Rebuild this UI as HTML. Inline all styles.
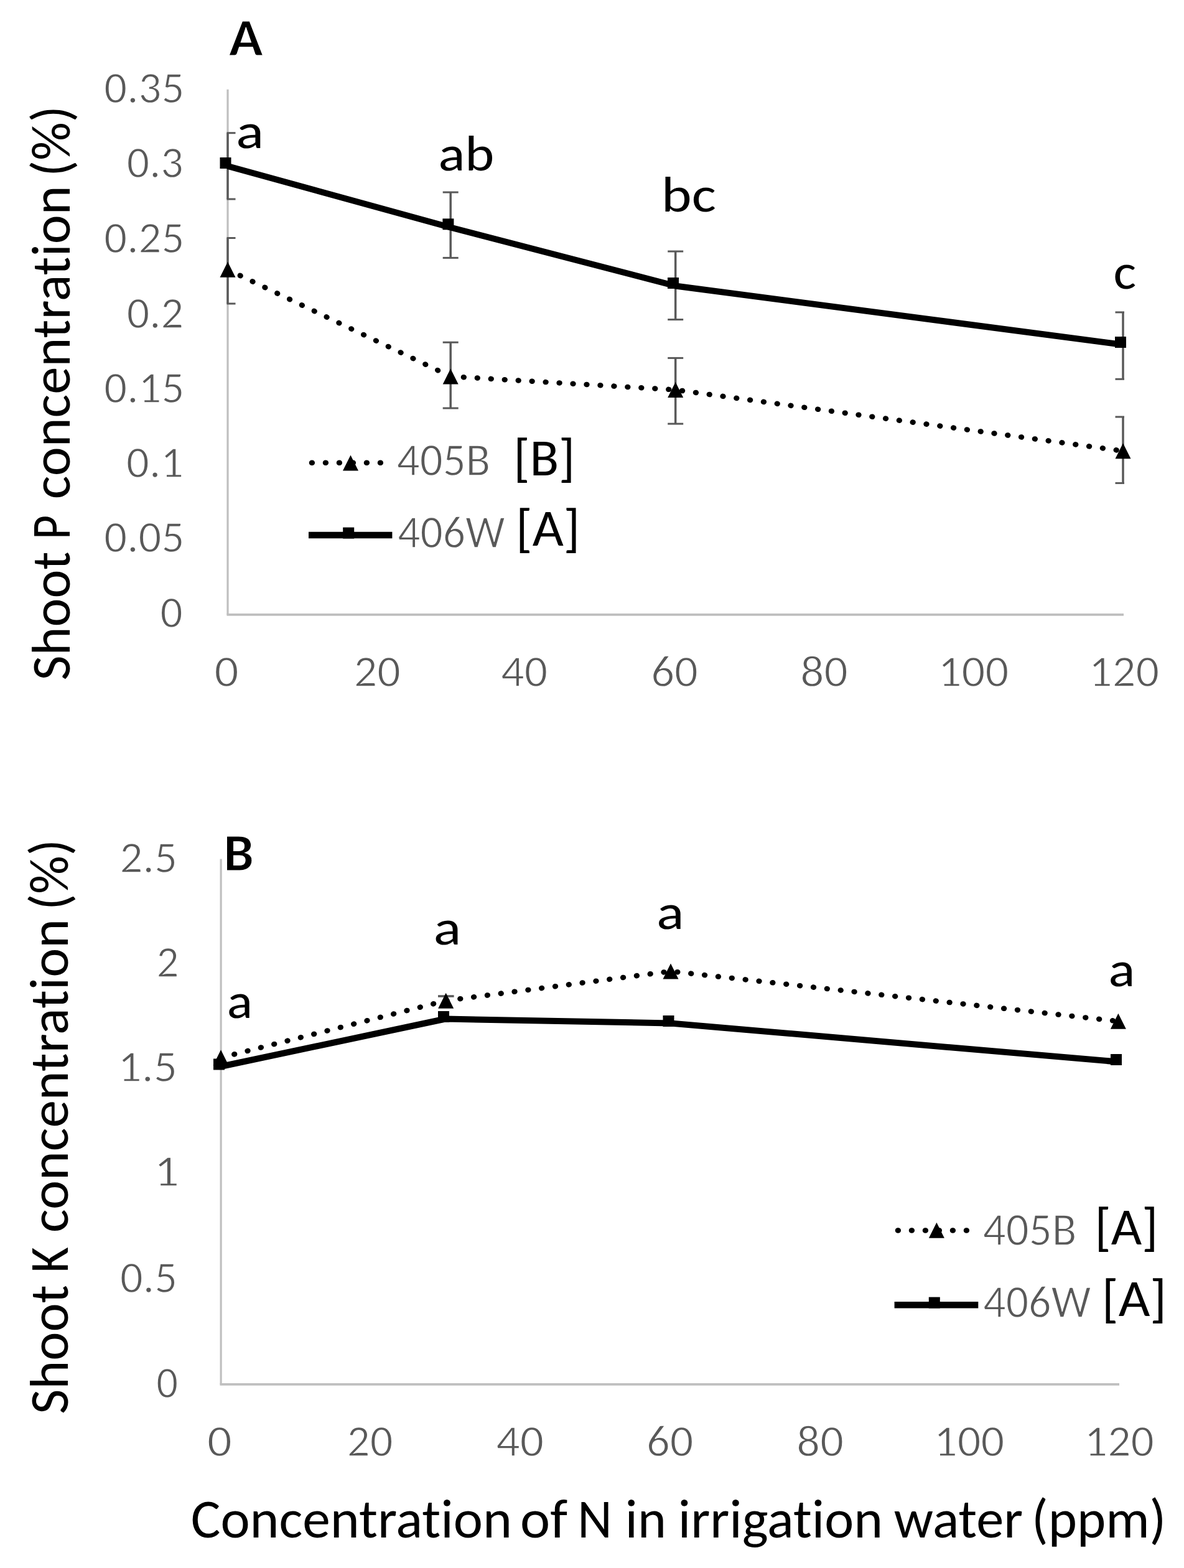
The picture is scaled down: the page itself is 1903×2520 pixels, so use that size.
<!DOCTYPE html>
<html><head><meta charset="utf-8"><title>Shoot P and K concentration</title>
<style>
html,body{margin:0;padding:0;background:#fff;}
body{width:1903px;height:2520px;overflow:hidden;}
svg{display:block;}
text{font-family:Carlito, 'Liberation Sans', sans-serif;font-size-adjust:cap-height 0.6416015625;font-variant-ligatures:none;font-feature-settings:"liga" 0,"clig" 0;}
</style></head>
<body>
<svg width="1903" height="2520" viewBox="0 0 1903 2520">
<rect width="1903" height="2520" fill="#fff"/>
<g id="plot">
<line x1="366" y1="143.7" x2="366" y2="987.9" stroke="#BFBFBF" stroke-width="3.2" />
<line x1="364.5" y1="987.9" x2="1806" y2="987.9" stroke="#BFBFBF" stroke-width="3.6" />
<line x1="366" y1="213.7" x2="366" y2="320.0" stroke="#595959" stroke-width="3.5" />
<line x1="364.5" y1="213.7" x2="378.5" y2="213.7" stroke="#595959" stroke-width="3" />
<line x1="364.5" y1="320.0" x2="378.5" y2="320.0" stroke="#595959" stroke-width="3" />
<line x1="724.2" y1="309.0" x2="724.2" y2="414.4" stroke="#595959" stroke-width="3.5" />
<line x1="711.7" y1="309.0" x2="736.7" y2="309.0" stroke="#595959" stroke-width="3" />
<line x1="711.7" y1="414.4" x2="736.7" y2="414.4" stroke="#595959" stroke-width="3" />
<line x1="1085.7" y1="404.0" x2="1085.7" y2="513.6" stroke="#595959" stroke-width="3.5" />
<line x1="1073.2" y1="404.0" x2="1098.2" y2="404.0" stroke="#595959" stroke-width="3" />
<line x1="1073.2" y1="513.6" x2="1098.2" y2="513.6" stroke="#595959" stroke-width="3" />
<line x1="1805" y1="501.9" x2="1805" y2="609.3" stroke="#595959" stroke-width="3.5" />
<line x1="1792.5" y1="501.9" x2="1807.0" y2="501.9" stroke="#595959" stroke-width="3" />
<line x1="1792.5" y1="609.3" x2="1807.0" y2="609.3" stroke="#595959" stroke-width="3" />
<line x1="366" y1="382.5" x2="366" y2="488.0" stroke="#595959" stroke-width="3.5" />
<line x1="364.5" y1="382.5" x2="378.5" y2="382.5" stroke="#595959" stroke-width="3" />
<line x1="364.5" y1="488.0" x2="378.5" y2="488.0" stroke="#595959" stroke-width="3" />
<line x1="724.2" y1="550.2" x2="724.2" y2="656.0" stroke="#595959" stroke-width="3.5" />
<line x1="711.7" y1="550.2" x2="736.7" y2="550.2" stroke="#595959" stroke-width="3" />
<line x1="711.7" y1="656.0" x2="736.7" y2="656.0" stroke="#595959" stroke-width="3" />
<line x1="1085.7" y1="575.4" x2="1085.7" y2="681.1" stroke="#595959" stroke-width="3.5" />
<line x1="1073.2" y1="575.4" x2="1098.2" y2="575.4" stroke="#595959" stroke-width="3" />
<line x1="1073.2" y1="681.1" x2="1098.2" y2="681.1" stroke="#595959" stroke-width="3" />
<line x1="1805" y1="670.0" x2="1805" y2="776.4" stroke="#595959" stroke-width="3.5" />
<line x1="1792.5" y1="670.0" x2="1807.0" y2="670.0" stroke="#595959" stroke-width="3" />
<line x1="1792.5" y1="776.4" x2="1807.0" y2="776.4" stroke="#595959" stroke-width="3" />
<polyline points="366.0,433.3 724.2,605.0 1085.7,626.5 1805.0,724.8" fill="none" stroke="#000" stroke-width="8.5" stroke-linejoin="round" stroke-dasharray="0.8 21.2" stroke-linecap="round"/>
<polyline points="366.0,267.0 724.0,365.5 1085.5,459.5 1805.0,554.0" fill="none" stroke="#000" stroke-width="10" stroke-linejoin="round" />
<polygon points="366.0,420.8 378.5,445.8 353.5,445.8" fill="#000"/>
<polygon points="724.2,592.5 736.7,617.5 711.7,617.5" fill="#000"/>
<polygon points="1085.7,614.0 1098.2,639.0 1073.2,639.0" fill="#000"/>
<polygon points="1805.0,712.3 1817.5,737.3 1792.5,737.3" fill="#000"/>
<rect x="353.5" y="253.0" width="18" height="18" fill="#000"/>
<rect x="711.4" y="351.3" width="18" height="18" fill="#000"/>
<rect x="1073.0" y="446.0" width="18" height="18" fill="#000"/>
<rect x="1792.0" y="541.0" width="18" height="18" fill="#000"/>
<line x1="501" y1="743.8" x2="616" y2="743.8" stroke="#000" stroke-width="8.5" stroke-dasharray="0.8 21.2" stroke-linecap="round"/>
<polygon points="563.5,731.5 576.0,756.5 551.0,756.5" fill="#000"/>
<line x1="496" y1="860" x2="630.4" y2="860" stroke="#000" stroke-width="10.5" />
<rect x="551.2" y="847.6" width="18" height="18" fill="#000"/>
<line x1="355.1" y1="1380.4" x2="355.1" y2="2224.9" stroke="#BFBFBF" stroke-width="3.2" />
<line x1="353.5" y1="2224.9" x2="1799" y2="2224.9" stroke="#BFBFBF" stroke-width="3.8" />
<line x1="704" y1="1601" x2="729.6" y2="1601" stroke="#595959" stroke-width="3.5" />
<polyline points="355.0,1699.8 716.7,1608.2 1078.0,1561.0 1797.4,1641.3" fill="none" stroke="#000" stroke-width="8.5" stroke-linejoin="round" stroke-dasharray="0.8 21.2" stroke-linecap="round"/>
<polyline points="355.0,1714.0 716.0,1637.5 1077.5,1644.5 1797.0,1706.5" fill="none" stroke="#000" stroke-width="10" stroke-linejoin="round" />
<polygon points="355.0,1687.3 367.5,1712.3 342.5,1712.3" fill="#000"/>
<polygon points="716.7,1595.7 729.2,1620.7 704.2,1620.7" fill="#000"/>
<polygon points="1078.0,1548.5 1090.5,1573.5 1065.5,1573.5" fill="#000"/>
<polygon points="1797.4,1628.8 1809.9,1653.8 1784.9,1653.8" fill="#000"/>
<rect x="343.0" y="1701.5" width="18" height="18" fill="#000"/>
<rect x="704.0" y="1625.0" width="18" height="18" fill="#000"/>
<rect x="1065.5" y="1632.0" width="18" height="18" fill="#000"/>
<rect x="1785.0" y="1694.0" width="18" height="18" fill="#000"/>
<line x1="1443" y1="1977.4" x2="1558" y2="1977.4" stroke="#000" stroke-width="8.5" stroke-dasharray="0.8 21.2" stroke-linecap="round"/>
<polygon points="1505.4,1964.7 1517.9,1989.7 1492.9,1989.7" fill="#000"/>
<line x1="1437.6" y1="2097.2" x2="1572.3" y2="2097.2" stroke="#000" stroke-width="10.5" />
<rect x="1492.8" y="2084.6" width="18" height="18" fill="#000"/>
</g>
<g id="labels">
<text x="368.10" y="89.20" font-size="85.54" fill="#000" stroke="#fff" stroke-width="1.0" font-weight="bold" textLength="54.53" lengthAdjust="spacingAndGlyphs">A</text>
<text x="167.33" y="165.25" font-size="72.0" fill="#595959" stroke="#fff" stroke-width="1.3" textLength="129.04" lengthAdjust="spacingAndGlyphs">0.35</text>
<text x="203.75" y="285.45" font-size="72.0" fill="#595959" stroke="#fff" stroke-width="1.3" textLength="91.00" lengthAdjust="spacingAndGlyphs">0.3</text>
<text x="167.33" y="405.85" font-size="72.0" fill="#595959" stroke="#fff" stroke-width="1.3" textLength="129.04" lengthAdjust="spacingAndGlyphs">0.25</text>
<text x="203.75" y="526.55" font-size="72.0" fill="#595959" stroke="#fff" stroke-width="1.3" textLength="91.38" lengthAdjust="spacingAndGlyphs">0.2</text>
<text x="167.33" y="646.95" font-size="72.0" fill="#595959" stroke="#fff" stroke-width="1.3" textLength="129.04" lengthAdjust="spacingAndGlyphs">0.15</text>
<text x="203.13" y="767.15" font-size="72.0" fill="#595959" stroke="#fff" stroke-width="1.3" textLength="92.01" lengthAdjust="spacingAndGlyphs">0.1</text>
<text x="167.33" y="887.45" font-size="72.0" fill="#595959" stroke="#fff" stroke-width="1.3" textLength="129.04" lengthAdjust="spacingAndGlyphs">0.05</text>
<text x="257.57" y="1007.75" font-size="72.0" fill="#595959" stroke="#fff" stroke-width="1.3" textLength="36.14" lengthAdjust="spacingAndGlyphs">0</text>
<text x="344.42" y="1102.95" font-size="72.0" fill="#595959" stroke="#fff" stroke-width="1.3" textLength="39.12" lengthAdjust="spacingAndGlyphs">0</text>
<text x="568.69" y="1102.95" font-size="72.0" fill="#595959" stroke="#fff" stroke-width="1.3" textLength="75.02" lengthAdjust="spacingAndGlyphs">20</text>
<text x="805.34" y="1102.95" font-size="72.0" fill="#595959" stroke="#fff" stroke-width="1.3" textLength="74.86" lengthAdjust="spacingAndGlyphs">40</text>
<text x="1046.16" y="1102.95" font-size="72.0" fill="#595959" stroke="#fff" stroke-width="1.3" textLength="75.66" lengthAdjust="spacingAndGlyphs">60</text>
<text x="1286.33" y="1102.95" font-size="72.0" fill="#595959" stroke="#fff" stroke-width="1.3" textLength="76.51" lengthAdjust="spacingAndGlyphs">80</text>
<text x="1507.70" y="1102.95" font-size="72.0" fill="#595959" stroke="#fff" stroke-width="1.3" textLength="113.59" lengthAdjust="spacingAndGlyphs">100</text>
<text x="1750.13" y="1102.95" font-size="72.0" fill="#595959" stroke="#fff" stroke-width="1.3" textLength="113.05" lengthAdjust="spacingAndGlyphs">120</text>
<text transform="translate(112.30,1093.38) rotate(-90)" x="0" y="0" font-size="88" fill="#000" textLength="206.95" lengthAdjust="spacingAndGlyphs">Shoot</text>
<text transform="translate(112.30,867.00) rotate(-90)" x="0" y="0" font-size="88" fill="#000" textLength="39.12" lengthAdjust="spacingAndGlyphs">P</text>
<text transform="translate(112.30,802.18) rotate(-90)" x="0" y="0" font-size="88" fill="#000" textLength="503.88" lengthAdjust="spacingAndGlyphs">concentration</text>
<text transform="translate(112.30,283.83) rotate(-90)" x="0" y="0" font-size="88" fill="#000" textLength="113.76" lengthAdjust="spacingAndGlyphs">(%)</text>
<text x="379.36" y="237.90" font-size="81" fill="#000" textLength="44.75" lengthAdjust="spacingAndGlyphs">a</text>
<text x="704.42" y="274.30" font-size="81" fill="#000" textLength="89.96" lengthAdjust="spacingAndGlyphs">ab</text>
<text x="1063.12" y="340.10" font-size="81" fill="#000" textLength="87.77" lengthAdjust="spacingAndGlyphs">bc</text>
<text x="1789.60" y="464.30" font-size="81" fill="#000" textLength="36.65" lengthAdjust="spacingAndGlyphs">c</text>
<text x="637.86" y="763.85" font-size="73.0" fill="#595959" stroke="#fff" stroke-width="1.3" textLength="150.38" lengthAdjust="spacingAndGlyphs">405B</text>
<text x="825.17" y="763.60" font-size="84" fill="#000" textLength="99.26" lengthAdjust="spacingAndGlyphs">[B]</text>
<text x="639.28" y="880.25" font-size="73.0" fill="#595959" stroke="#fff" stroke-width="1.3" textLength="172.35" lengthAdjust="spacingAndGlyphs">406W</text>
<text x="829.11" y="877.30" font-size="84" fill="#000" textLength="103.14" lengthAdjust="spacingAndGlyphs">[A]</text>
<text x="359.56" y="1399.20" font-size="85.54" fill="#000" stroke="#fff" stroke-width="1.0" font-weight="bold" textLength="48.27" lengthAdjust="spacingAndGlyphs">B</text>
<text x="192.63" y="1401.85" font-size="72.0" fill="#595959" stroke="#fff" stroke-width="1.3" textLength="92.31" lengthAdjust="spacingAndGlyphs">2.5</text>
<text x="251.61" y="1570.05" font-size="72.0" fill="#595959" stroke="#fff" stroke-width="1.3" textLength="36.02" lengthAdjust="spacingAndGlyphs">2</text>
<text x="189.54" y="1737.55" font-size="72.0" fill="#595959" stroke="#fff" stroke-width="1.3" textLength="95.55" lengthAdjust="spacingAndGlyphs">1.5</text>
<text x="247.45" y="1905.65" font-size="72.0" fill="#595959" stroke="#fff" stroke-width="1.3" textLength="40.55" lengthAdjust="spacingAndGlyphs">1</text>
<text x="193.14" y="2077.25" font-size="72.0" fill="#595959" stroke="#fff" stroke-width="1.3" textLength="91.78" lengthAdjust="spacingAndGlyphs">0.5</text>
<text x="251.23" y="2245.55" font-size="72.0" fill="#595959" stroke="#fff" stroke-width="1.3" textLength="34.93" lengthAdjust="spacingAndGlyphs">0</text>
<text x="332.99" y="2339.85" font-size="72.0" fill="#595959" stroke="#fff" stroke-width="1.3" textLength="39.78" lengthAdjust="spacingAndGlyphs">0</text>
<text x="557.84" y="2339.85" font-size="72.0" fill="#595959" stroke="#fff" stroke-width="1.3" textLength="73.63" lengthAdjust="spacingAndGlyphs">20</text>
<text x="797.52" y="2339.85" font-size="72.0" fill="#595959" stroke="#fff" stroke-width="1.3" textLength="76.53" lengthAdjust="spacingAndGlyphs">40</text>
<text x="1038.97" y="2339.85" font-size="72.0" fill="#595959" stroke="#fff" stroke-width="1.3" textLength="75.44" lengthAdjust="spacingAndGlyphs">60</text>
<text x="1280.37" y="2339.85" font-size="72.0" fill="#595959" stroke="#fff" stroke-width="1.3" textLength="75.55" lengthAdjust="spacingAndGlyphs">80</text>
<text x="1500.91" y="2339.85" font-size="72.0" fill="#595959" stroke="#fff" stroke-width="1.3" textLength="113.48" lengthAdjust="spacingAndGlyphs">100</text>
<text x="1742.88" y="2339.85" font-size="72.0" fill="#595959" stroke="#fff" stroke-width="1.3" textLength="112.09" lengthAdjust="spacingAndGlyphs">120</text>
<text transform="translate(108.80,2272.79) rotate(-90)" x="0" y="0" font-size="88" fill="#000" textLength="207.66" lengthAdjust="spacingAndGlyphs">Shoot</text>
<text transform="translate(108.80,2045.47) rotate(-90)" x="0" y="0" font-size="88" fill="#000" textLength="41.33" lengthAdjust="spacingAndGlyphs">K</text>
<text transform="translate(108.80,1981.08) rotate(-90)" x="0" y="0" font-size="88" fill="#000" textLength="504.18" lengthAdjust="spacingAndGlyphs">concentration</text>
<text transform="translate(108.80,1462.83) rotate(-90)" x="0" y="0" font-size="88" fill="#000" textLength="113.87" lengthAdjust="spacingAndGlyphs">(%)</text>
<text x="364.86" y="1635.70" font-size="81" fill="#000" textLength="41.22" lengthAdjust="spacingAndGlyphs">a</text>
<text x="696.89" y="1518.00" font-size="81" fill="#000" textLength="44.37" lengthAdjust="spacingAndGlyphs">a</text>
<text x="1055.32" y="1493.30" font-size="81" fill="#000" textLength="44.12" lengthAdjust="spacingAndGlyphs">a</text>
<text x="1781.42" y="1585.00" font-size="81" fill="#000" textLength="42.86" lengthAdjust="spacingAndGlyphs">a</text>
<text x="1579.86" y="2000.65" font-size="73.0" fill="#595959" stroke="#fff" stroke-width="1.3" textLength="150.48" lengthAdjust="spacingAndGlyphs">405B</text>
<text x="1759.60" y="2000.40" font-size="84" fill="#000" textLength="101.77" lengthAdjust="spacingAndGlyphs">[A]</text>
<text x="1580.27" y="2117.35" font-size="73.0" fill="#595959" stroke="#fff" stroke-width="1.3" textLength="173.16" lengthAdjust="spacingAndGlyphs">406W</text>
<text x="1770.84" y="2114.80" font-size="84" fill="#000" textLength="104.29" lengthAdjust="spacingAndGlyphs">[A]</text>
<text x="306.71" y="2471.20" font-size="88" fill="#000" textLength="516.18" lengthAdjust="spacingAndGlyphs">Concentration</text>
<text x="836.11" y="2471.20" font-size="88" fill="#000" textLength="75.98" lengthAdjust="spacingAndGlyphs">of</text>
<text x="928.18" y="2471.20" font-size="88" fill="#000" textLength="55.48" lengthAdjust="spacingAndGlyphs">N</text>
<text x="1004.83" y="2471.20" font-size="88" fill="#000" textLength="66.01" lengthAdjust="spacingAndGlyphs">in</text>
<text x="1089.74" y="2471.20" font-size="88" fill="#000" textLength="329.25" lengthAdjust="spacingAndGlyphs">irrigation</text>
<text x="1436.82" y="2471.20" font-size="88" fill="#000" textLength="207.25" lengthAdjust="spacingAndGlyphs">water</text>
<text x="1657.93" y="2471.20" font-size="88" fill="#000" textLength="216.32" lengthAdjust="spacingAndGlyphs">(ppm)</text>
</g>
</svg>
</body></html>
